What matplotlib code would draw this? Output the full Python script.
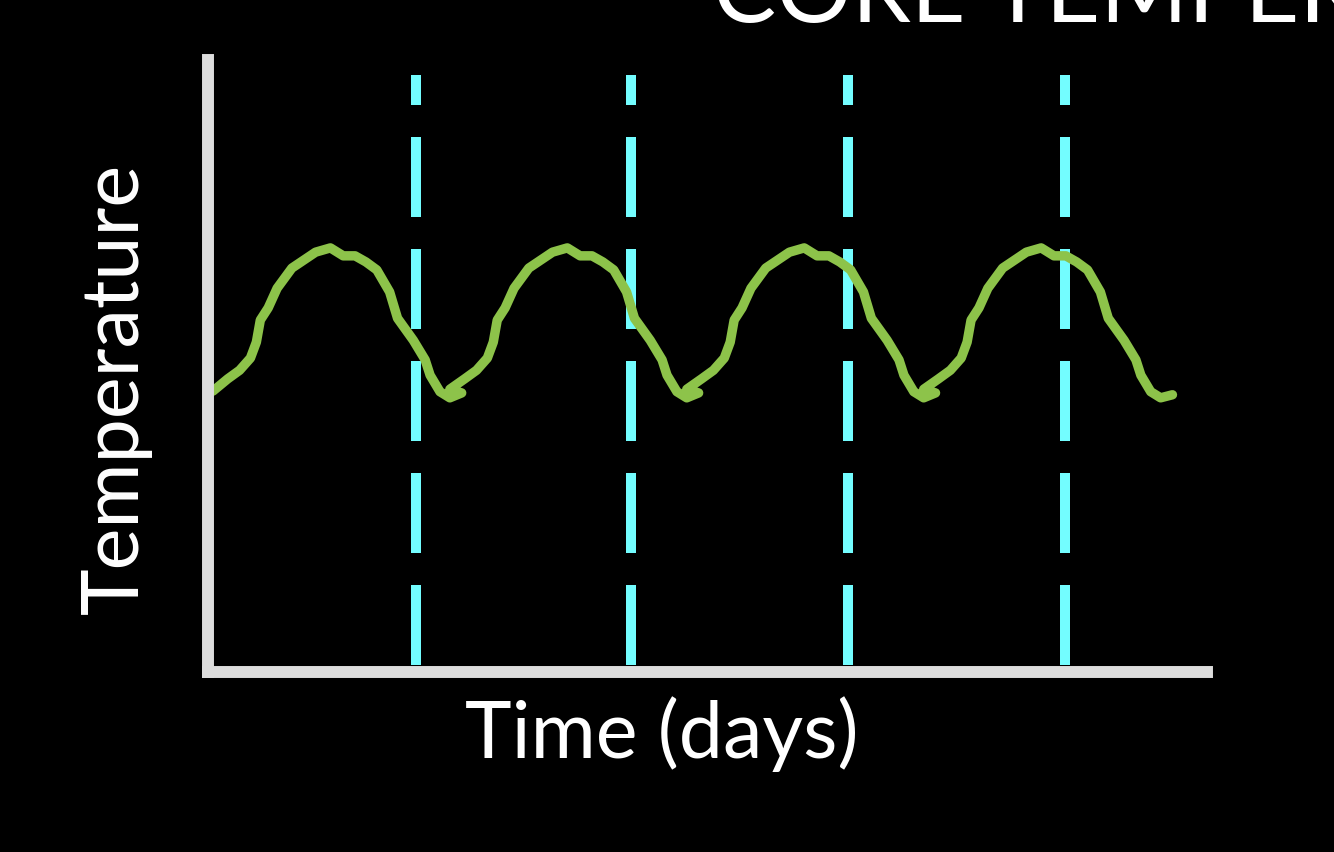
import matplotlib
matplotlib.use('Agg')
import matplotlib.pyplot as plt

# Core temperature trace over four days (hours, arbitrary temperature units 0-100)
hours = [0.5, 2.0, 3.2, 4.3, 4.9, 5.3, 6.1, 7.0, 8.5, 10.9, 12.4, 13.7, 14.9, 16.0, 17.1, 18.4, 19.2, 20.8, 22.0, 22.5, 23.5, 24.5, 25.7,
         24.5, 26.0, 27.2, 28.3, 28.9, 29.3, 30.1, 31.0, 32.5, 34.9, 36.4, 37.7, 38.9, 40.0, 41.1, 42.4, 43.2, 44.8, 46.0, 46.5, 47.5, 48.5, 49.7,
         48.5, 50.0, 51.2, 52.3, 52.9, 53.3, 54.1, 55.0, 56.5, 58.9, 60.4, 61.7, 62.9, 64.0, 65.1, 66.4, 67.2, 68.8, 70.0, 70.5, 71.5, 72.5, 73.7,
         72.5, 74.0, 75.2, 76.3, 76.9, 77.3, 78.1, 79.0, 80.5, 82.9, 84.4, 85.7, 86.9, 88.0, 89.1, 90.4, 91.2, 92.8, 94.0, 94.5, 95.5, 96.5, 97.7]
temp = [45.9, 47.9, 49.3, 51.3, 53.9, 57.5, 59.5, 62.7, 66.0, 68.6, 69.3, 68.0, 68.0, 67.0, 65.7, 62.1, 57.8, 54.2, 51.0, 48.5, 45.8, 44.8, 45.6,
        46.2, 47.9, 49.3, 51.3, 53.9, 57.5, 59.5, 62.7, 66.0, 68.6, 69.3, 68.0, 68.0, 67.0, 65.7, 62.1, 57.8, 54.2, 51.0, 48.5, 45.8, 44.8, 45.6,
        46.2, 47.9, 49.3, 51.3, 53.9, 57.5, 59.5, 62.7, 66.0, 68.6, 69.3, 68.0, 68.0, 67.0, 65.7, 62.1, 57.8, 54.2, 51.0, 48.5, 45.8, 44.8, 45.6,
        46.2, 47.9, 49.3, 51.3, 53.9, 57.5, 59.5, 62.7, 66.0, 68.6, 69.3, 68.0, 68.0, 67.0, 65.7, 62.1, 57.8, 54.2, 51.0, 48.5, 45.8, 44.8, 45.3]
markers = [21.1, 42.9, 64.8, 86.8]  # dashed day markers (hours)

plt.rcParams['font.family'] = ['Lato', 'DejaVu Sans']

W, H = 1334, 852
fig = plt.figure(figsize=(W / 100, H / 100), dpi=100, facecolor='black')
ax = fig.add_axes([208/W, 1 - 672/H, 999/W, 612/H], facecolor='black')
ax.set_xlim(0, 101.2)
ax.set_ylim(0, 100)

for m in markers:
    ln, = ax.plot([m, m], [1.1, 97.5], color='#73FDFF', linewidth=7.2, linestyle='--', dash_capstyle='butt')
    ln.set_dashes([8.0, 3.2])  # scaled by linewidth

ax.plot(hours, temp, color='#8DC34A', linewidth=6.8, solid_capstyle='round', solid_joinstyle='round')

for s in ['top', 'right']:
    ax.spines[s].set_visible(False)
for s in ['left', 'bottom']:
    ax.spines[s].set_color('#DDDDDD')
    ax.spines[s].set_linewidth(8.6)
ax.spines['left'].set_bounds(0, 100)
ax.set_xticks([])
ax.set_yticks([])

fig.text(116/W, 1 - 388/H, 'Temperature', color='white', fontsize=57, rotation=90, ha='center', va='center')
fig.text(662/W, 1 - 758/H, 'Time (days)', color='white', fontsize=57, ha='center', va='baseline')
fig.text(713/W, 1 - 22/H, 'CORE TEMPERATURE', color='white', fontsize=68, va='baseline', ha='left')

fig.savefig('out.png', dpi=100, facecolor='black')
